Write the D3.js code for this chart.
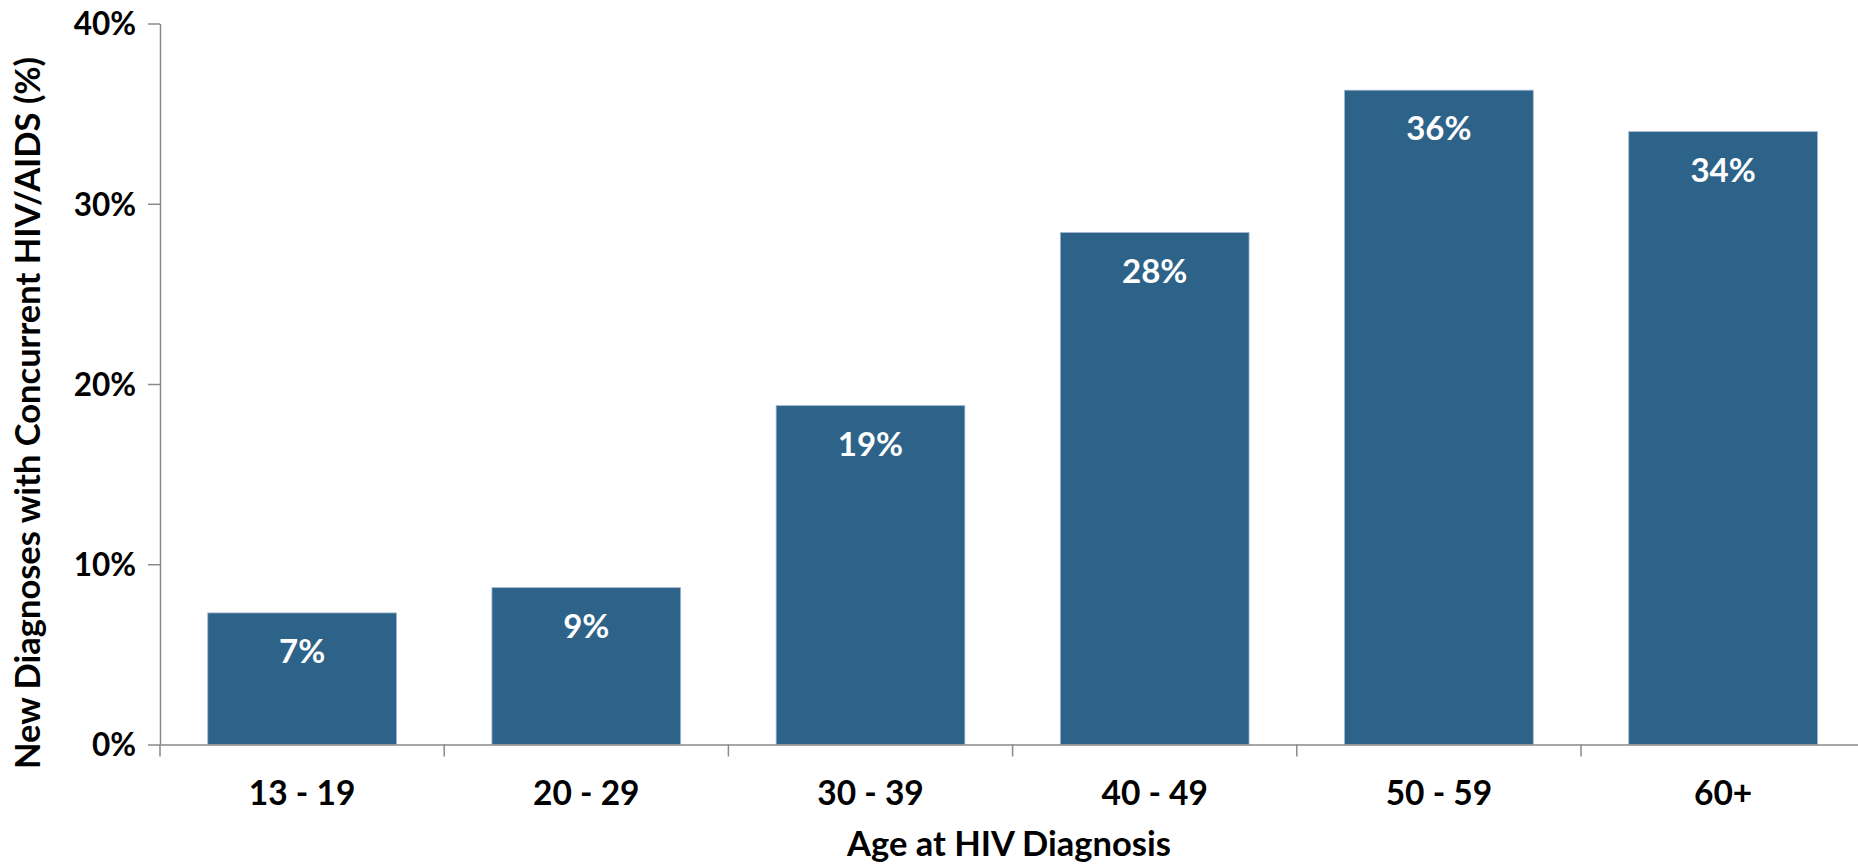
<!DOCTYPE html>
<html>
<head>
<meta charset="utf-8">
<script src="https://cdn.jsdelivr.net/npm/d3@7"></script>
<style>
  html, body { margin: 0; padding: 0; background: #fff; }
  svg { display: block; font-family: Lato, "Open Sans", sans-serif; font-weight: 700; }
</style>
</head>
<body>
<svg id="chart" width="1858" height="865"></svg>
<script>
const categories = ["13 - 19", "20 - 29", "30 - 39", "40 - 49", "50 - 59", "60+"];
const values = [7.3, 8.7, 18.8, 28.4, 36.3, 34.0];
const labels = ["7%", "9%", "19%", "28%", "36%", "34%"];
const yTicks = [0, 10, 20, 30, 40];
const xTitle = "Age at HIV Diagnosis";
const yTitle = "New Diagnoses with Concurrent HIV/AIDS (%)";

const W = 1858, H = 865;
const x0 = 160, x1 = 160 + 6 * 284.2;
const yTop = 23.5, yBot = 744.5;
const barColor = "#2E6389";
const axisColor = "#8a8a8a";

const svg = d3.select("#chart");

const x = d3.scaleBand().domain(categories).range([x0, x1]).padding(0);
const y = d3.scaleLinear().domain([0, 40]).range([yBot, yTop]);
const barW = x.bandwidth() * 0.664;

// bars
svg.append("g").selectAll("rect").data(categories).join("rect")
  .attr("x", (d) => x(d) + (x.bandwidth() - barW) / 2)
  .attr("y", (d, i) => y(values[i]))
  .attr("width", barW)
  .attr("height", (d, i) => y(0) - y(values[i]))
  .attr("fill", barColor)
  .attr("stroke", "#9db7cf")
  .attr("stroke-width", 0.8);

// bar labels
svg.append("g").selectAll("text").data(categories).join("text")
  .attr("x", (d) => x(d) + x.bandwidth() / 2)
  .attr("y", (d, i) => y(values[i]) + 50)
  .attr("text-anchor", "middle")
  .attr("fill", "#fff")
  .attr("font-size", 33)
  .text((d, i) => labels[i]);

// y axis
const yAxis = d3.axisLeft(y).tickValues(yTicks).tickFormat((d) => d + "%")
  .tickSize(12).tickSizeOuter(0).tickPadding(12);
const gy = svg.append("g").attr("transform", `translate(${x0},0)`).call(yAxis);
gy.select(".domain").attr("stroke", axisColor).attr("stroke-width", 1.5);
gy.selectAll(".tick line").attr("stroke", axisColor).attr("stroke-width", 1.5);
gy.selectAll(".tick text").attr("font-size", 31.5).attr("font-family", "Lato, sans-serif")
  .attr("font-weight", 700).attr("fill", "#000").attr("dy", "0.36em");

// x axis
const xAxis = d3.axisBottom(x).tickSize(0).tickSizeOuter(0).tickPadding(0);
const gx = svg.append("g").attr("transform", `translate(0,${yBot})`).call(xAxis);
gx.select(".domain").attr("stroke", axisColor).attr("stroke-width", 1.5);
gx.selectAll(".tick text").attr("font-size", 33.5).attr("font-family", "Lato, sans-serif")
  .attr("font-weight", 700).attr("fill", "#000").attr("dy", 0).attr("y", 60);
// boundary ticks
const bounds = categories.map((d) => x(d)).concat([x(categories[categories.length - 1]) + x.bandwidth()]);
gx.append("g").selectAll("line").data(bounds).join("line")
  .attr("x1", (d) => d).attr("x2", (d) => d)
  .attr("y1", 0).attr("y2", 12)
  .attr("stroke", axisColor).attr("stroke-width", 1.5);

// titles
svg.append("text")
  .attr("x", 1009).attr("y", 856)
  .attr("text-anchor", "middle")
  .attr("font-size", 34.5)
  .attr("fill", "#000")
  .text(xTitle);

svg.append("text")
  .attr("transform", "translate(40,413) rotate(-90)")
  .attr("text-anchor", "middle")
  .attr("font-size", 34.5)
  .attr("fill", "#000")
  .text(yTitle);
</script>
</body>
</html>
